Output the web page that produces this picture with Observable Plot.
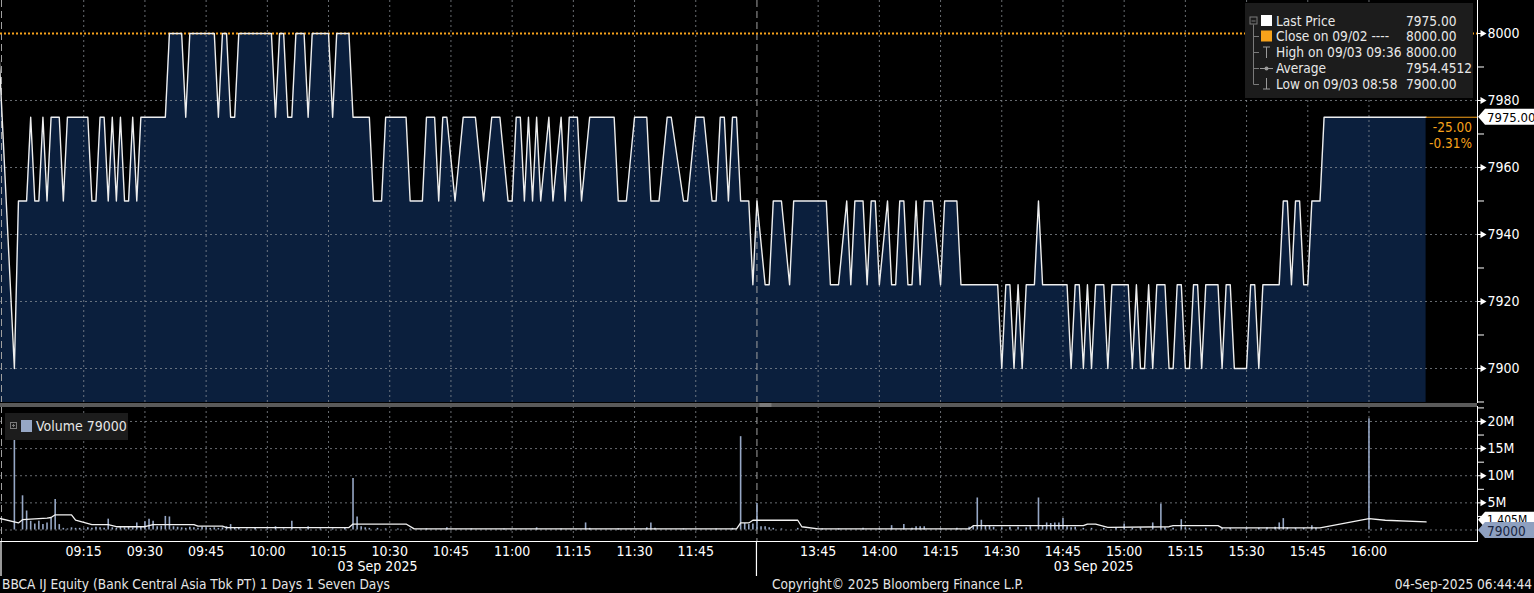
<!DOCTYPE html>
<html><head><meta charset="utf-8">
<script src="https://cdn.jsdelivr.net/npm/d3@7"></script>
<script src="https://cdn.jsdelivr.net/npm/@observablehq/plot@0.6"></script>
<style>
html,body{margin:0;padding:0;background:#000;}
#root{position:relative;width:1534px;height:593px;background:#000;overflow:hidden;
  font-family:"Liberation Sans Narrow","DejaVu Sans Condensed","Arial Narrow",sans-serif;color:#e6e6e6;}
#root > svg{position:absolute;left:0;}
.txt{position:absolute;font-size:13.6px;white-space:nowrap;color:#e6e6e6;line-height:1;}
#legend{position:absolute;left:1245px;top:3px;width:228px;height:95px;background:#1c1c1c;}
#legend .row{position:absolute;left:31px;font-size:13.6px;color:#e8e8e8;line-height:16px;white-space:nowrap;}
#legend .val{position:absolute;left:161px;font-size:13.6px;color:#e8e8e8;line-height:16px;white-space:nowrap;}
#vlegend{position:absolute;left:5px;top:413px;width:123px;height:27px;background:#1c1c1c;}
</style></head><body><div id="root"></div>
<script>
// ---------------- data ----------------
// x = trading-minute index: 0 = 09:00, 180 = 12:00 / 13:30 (lunch break collapsed)
const xDomain = [-5.4, 356.6];
const priceSeries = [[-6,8000],[-2,7900],[-1,7950],[1,7950],[2,7975],[3,7950],[4,7950],[5,7975],[6,7950],[7,7975],[9,7975],[10,7950],[11,7975],[16,7975],[17,7950],[18,7950],[19,7975],[20,7975],[21,7950],[22,7975],[23,7950],[24,7975],[25,7950],[26,7950],[27,7975],[28,7950],[29,7975],[35,7975],[36,8000],[39,8000],[40,7975],[41,8000],[47,8000],[48,7975],[49,8000],[50,8000],[51,7975],[52,7975],[53,8000],[61,8000],[62,7975],[63,8000],[64,8000],[65,7975],[66,7975],[67,8000],[69,8000],[70,7975],[71,8000],[75,8000],[76,7975],[77,8000],[80,8000],[81,7975],[85,7975],[86,7950],[88,7950],[89,7975],[94,7975],[95,7950],[98,7950],[99,7975],[101,7975],[102,7950],[103,7975],[104,7975],[106,7950],[108,7975],[111,7975],[113,7950],[115,7975],[117,7975],[119,7950],[120,7950],[121,7975],[122,7975],[123,7950],[124,7975],[125,7950],[126,7975],[127,7950],[129,7975],[130,7950],[132,7975],[133,7950],[134,7975],[136,7975],[137,7950],[139,7975],[145,7975],[146,7950],[148,7950],[150,7975],[153,7975],[154,7950],[156,7950],[158,7975],[159,7975],[162,7950],[163,7950],[165,7975],[167,7975],[169,7950],[170,7950],[171,7975],[172,7975],[173,7950],[174,7975],[175,7975],[176,7950],[178,7950],[179,7925],[180,7950],[182,7925],[183,7925],[184,7950],[186,7950],[188,7925],[189,7950],[197,7950],[198,7925],[200,7925],[202,7950],[203,7925],[204,7950],[206,7950],[207,7925],[208,7950],[209,7950],[210,7925],[212,7950],[213,7925],[214,7925],[215,7950],[216,7950],[217,7925],[218,7925],[219,7950],[220,7925],[221,7950],[223,7950],[225,7925],[226,7950],[229,7950],[230,7925],[239,7925],[240,7900],[241,7925],[242,7925],[243,7900],[244,7925],[245,7900],[246,7925],[248,7925],[249,7950],[250,7925],[256,7925],[257,7900],[258,7925],[259,7925],[260,7900],[261,7925],[262,7900],[263,7925],[265,7925],[266,7900],[267,7925],[271,7925],[272,7900],[273,7925],[274,7900],[275,7900],[276,7925],[277,7900],[278,7925],[280,7925],[281,7900],[282,7900],[283,7925],[284,7925],[285,7900],[286,7900],[287,7925],[288,7925],[289,7900],[290,7925],[293,7925],[294,7900],[295,7925],[296,7925],[297,7900],[300,7900],[301,7925],[302,7925],[303,7900],[304,7925],[308,7925],[309,7950],[310,7950],[311,7925],[312,7950],[313,7950],[314,7925],[315,7925],[316,7950],[318,7950],[319,7975],[344,7975]];
// volume per minute, millions of shares
const volumeSeries = [[-2,17.0],[0,6.3],[1,3.5],[2,1.6],[3,1.1],[4,1.6],[5,1.0],[6,1.3],[7,2.1],[8,5.6],[9,1.0],[10,0.3],[11,0.2],[12,0.4],[13,0.3],[14,0.3],[15,0.2],[16,0.4],[17,0.3],[18,0.5],[19,0.4],[20,0.3],[21,2.0],[22,0.4],[23,0.3],[24,0.5],[25,0.4],[26,0.5],[27,0.4],[28,1.3],[29,0.6],[30,1.5],[31,2.0],[32,1.6],[33,0.6],[34,0.7],[35,2.5],[36,2.4],[37,0.6],[38,0.5],[39,0.4],[40,0.3],[41,0.5],[42,0.4],[43,0.3],[44,0.5],[45,0.4],[46,0.3],[47,0.4],[48,0.3],[49,0.4],[50,0.6],[51,1.0],[52,0.4],[53,0.3],[55,0.2],[57,0.3],[60,0.2],[62,0.6],[64,0.2],[66,1.6],[68,0.2],[70,0.6],[73,0.2],[76,0.2],[79,0.3],[81,9.5],[82,2.4],[83,0.6],[84,0.4],[85,0.3],[87,0.3],[89,0.2],[92,0.2],[95,0.2],[99,0.2],[104,0.4],[110,0.2],[118,0.2],[126,0.4],[132,0.2],[138,1.3],[139,0.3],[146,0.2],[153,0.4],[154,1.3],[155,0.3],[162,0.2],[170,0.2],[174,0.3],[176,17.2],[177,1.2],[178,1.0],[179,1.1],[180,4.9],[181,0.6],[182,0.6],[183,0.4],[184,0.3],[186,0.2],[190,0.3],[196,0.2],[200,0.2],[206,0.3],[210,0.2],[213,0.8],[216,1.0],[218,0.3],[219,0.6],[220,0.6],[221,0.6],[225,0.2],[229,0.3],[232,0.5],[233,0.6],[234,5.9],[235,1.8],[236,0.8],[237,0.8],[238,0.5],[240,0.4],[242,0.5],[244,0.5],[246,0.4],[247,0.6],[249,5.9],[250,0.8],[251,1.3],[252,1.2],[253,1.3],[254,1.3],[255,2.1],[256,0.6],[257,0.4],[258,0.5],[260,0.3],[262,0.3],[265,0.3],[268,0.4],[270,1.1],[272,0.3],[274,0.4],[277,1.3],[279,4.8],[280,0.4],[282,0.3],[284,1.9],[285,0.4],[286,0.3],[290,0.3],[294,0.3],[296,0.3],[300,0.3],[303,0.3],[305,0.4],[307,0.5],[308,1.3],[309,2.1],[310,0.4],[312,0.3],[314,0.3],[316,0.8],[317,0.3],[320,0.2],[330,20.5],[333,0.3],[337,0.2]];
// volume average line, millions
const volumeAvgSeries = [[-6,2.2],[-1,1.3],[0,1.9],[6,2.2],[7,2.3],[8,2.8],[12,2.8],[13,1.8],[17,1.0],[21,1.0],[23,0.6],[30,0.6],[32,1.0],[42,1.0],[43,0.7],[49,0.7],[50,0.45],[80,0.45],[81,1.1],[94,1.1],[96,0.2],[175,0.2],[176,1.3],[178,1.3],[179,1.8],[190,1.8],[191,0.6],[195,0.2],[232,0.2],[233,0.8],[260,0.8],[261,1.1],[263,1.1],[266,0.5],[281,0.6],[282,0.8],[293,0.8],[294,0.4],[318,0.4],[330,2.1],[334,1.8],[344,1.5]];

const priceTicks = [7900, 7920, 7940, 7960, 7980, 8000];
const priceMinorTicks = [7890, 7910, 7930, 7950, 7970, 7990];
const volumeTicks = [5, 10, 15, 20];
const volumeMinorTicks = [2.5, 7.5, 12.5, 17.5, 22.5];
const timeLabels = ["09:15","09:30","09:45","10:00","10:15","10:30","10:45","11:00","11:15","11:30","11:45",
  "13:45","14:00","14:15","14:30","14:45","15:00","15:15","15:30","15:45","16:00"];
const sessions = [["08:54","12:00"],["13:30","16:15"]];
const dateLabel = "03 Sep 2025";
const prevClose = 8000, lastPrice = 7975;
const lastVolume = 0.079, avgVolume = 1.405;
const legendRows = ["Last Price","Close on 09/02 ----","High on 09/03 09:36","Average","Low on 09/03 08:58"];
const legendValues = ["7975.00","8000.00","8000.00","7954.4512","7900.00"];
const changeTexts = ["-25.00","-0.31%"];
const volumeLegend = "Volume 79000";
const footer = ["BBCA IJ Equity (Bank Central Asia Tbk PT) 1 Days 1 Seven Days",
  "Copyright\u00A9 2025 Bloomberg Finance L.P.", "04-Sep-2025 06:44:44"];

// ---------------- helpers ----------------
function tradingMinute(hhmm){ const [h,mm]=hhmm.split(":").map(Number); const t=h*60+mm; return t<=720 ? t-540 : t-810+180; }
const priceData = priceSeries.map(([m,p])=>({m,p}));
const volData = volumeSeries.map(([m,v])=>({m,v}));
const volAvg = volumeAvgSeries.map(([m,v])=>({m,v}));
const xTicks = timeLabels.map(l=>({m:tradingMinute(l), label:l}));
const breakM = tradingMinute("13:30");
const dateTicks = sessions.map(([a,b])=>({m:(tradingMinute(a)+tradingMinute(b))/2, label:dateLabel}));
const lastM = priceData[priceData.length-1].m;

const W = 1534, AXIS = 1477;
const NAVY = "#0b1f3d", GRID = "#8b9097", ORANGE = "#f7a21b", BAR = "#96a7c5";
const FONT = '"Liberation Sans Narrow","DejaVu Sans Condensed","Arial Narrow",sans-serif';
const priceY = [7889.85, 8009.85];
const volY = [-2.12, 22.76];
const root = document.getElementById("root");

// ---------------- price panel ----------------
const price = Plot.plot({
  width: W, height: 406, marginLeft: 0, marginRight: W-AXIS, marginTop: 0, marginBottom: 4,
  style: {background:"transparent", overflow:"visible", fontFamily: FONT},
  x: {domain: xDomain, axis: null},
  y: {domain: priceY, axis: null},
  marks: [
    Plot.areaY(priceData, {x:"m", y1: priceY[0], y2:"p", fill: NAVY, clip: true}),
    Plot.ruleY(priceTicks.filter(d=>d!==prevClose), {stroke: GRID, strokeDasharray:"2,3", strokeOpacity:0.75}),
    Plot.ruleX(xTicks, {x:"m", stroke: GRID, strokeDasharray:"2,3", strokeOpacity:0.75}),
    Plot.ruleX([breakM], {stroke:"#a0a0a0", strokeDasharray:"7,4"}),
    Plot.ruleX([xDomain[0]], {stroke:"#a0a0a0", strokeDasharray:"7,4", dx:1}),
    Plot.ruleY([prevClose], {stroke: ORANGE, strokeDasharray:"2,2", strokeWidth:1.8}),
    Plot.line(priceData, {x:"m", y:"p", stroke:"#eeeeee", strokeWidth:1.4, clip: true}),
    Plot.ruleY([lastPrice], {x1: lastM, x2: xDomain[1], stroke: ORANGE, strokeWidth:1}),
    Plot.axisY([...priceTicks, ...priceMinorTicks], {anchor:"right", label:null, tickSize:6, tickFormat:()=>"", stroke:"#fff"}),
    Plot.frame({anchor:"right", stroke:"#fff"}),
    Plot.dot(priceTicks, {x: xDomain[1], y: d=>d, symbol:"triangle", rotate:90, r:2.6, fill:"#fff", stroke:null, dx:5}),
    Plot.text(priceTicks, {x: xDomain[1], y: d=>d, text: d=>String(d), dx:10, textAnchor:"start", fill:"#fff", fontSize:14})
  ]
});
price.style.top = "0px";
root.appendChild(price);

// ---------------- volume panel ----------------
const vol = Plot.plot({
  width: W, height: 187, marginLeft: 0, marginRight: W-AXIS, marginTop: 0, marginBottom: 52,
  style: {background:"transparent", overflow:"visible", fontFamily: FONT},
  x: {domain: xDomain, axis: null},
  y: {domain: volY, axis: null},
  marks: [
    Plot.ruleY([0, ...volumeTicks], {stroke: GRID, strokeDasharray:"2,3", strokeOpacity:0.75}),
    Plot.ruleX(xTicks, {x:"m", stroke: GRID, strokeDasharray:"2,3", strokeOpacity:0.75}),
    Plot.ruleX([breakM], {stroke:"#a0a0a0", strokeDasharray:"7,4"}),
    Plot.ruleX([xDomain[0]], {stroke:"#a0a0a0", strokeDasharray:"7,4", dx:1}),
    Plot.ruleX(volData, {x:"m", y1:0, y2:"v", stroke: BAR, strokeWidth:1.6, clip:true}),
    Plot.line(volAvg, {x:"m", y:"v", stroke:"#f2f2f2", strokeWidth:1.3, clip:true}),
    Plot.axisY([...volumeTicks, ...volumeMinorTicks], {anchor:"right", label:null, tickSize:6, tickFormat:()=>"", stroke:"#fff"}),
    Plot.frame({anchor:"right", stroke:"#fff"}),
    Plot.frame({anchor:"bottom", stroke:"#fff"}),
    Plot.dot(volumeTicks, {x: xDomain[1], y: d=>d, symbol:"triangle", rotate:90, r:2.6, fill:"#fff", stroke:null, dx:5}),
    Plot.text(volumeTicks, {x: xDomain[1], y: d=>d, text: d=>d+"M", dx:10, textAnchor:"start", fill:"#fff", fontSize:14}),
    Plot.text(xTicks, {x:"m", text:"label", frameAnchor:"bottom", dy:14, fill:"#fff", fontSize:14}),
    Plot.text(dateTicks, {x:"m", text:"label", frameAnchor:"bottom", dy:29.5, fill:"#fff", fontSize:14})
  ]
});
vol.style.top = "406px";
root.appendChild(vol);

// ---------------- overlay: separators & value tags ----------------
const px = price.scale("x"), py = price.scale("y"), vy = vol.scale("y");
const ov = d3.select(root).append("svg").attr("width", W).attr("height", 593)
  .style("position","absolute").style("top","0px").style("left","0px").style("font-family", FONT);
// panel separator
ov.append("rect").attr("x",0).attr("y",403).attr("width",AXIS).attr("height",4).attr("fill","#5a5a5a");
ov.append("rect").attr("x",px.apply(breakM)+3).attr("y",403.5).attr("width",12).attr("height",1).attr("fill","#9a9a9a");
ov.append("rect").attr("x",px.apply(breakM)+3).attr("y",405.5).attr("width",12).attr("height",1).attr("fill","#9a9a9a");
// session separators below axis
[xDomain[0], breakM].forEach((m,i)=>{
  const x = px.apply(m) + (i===0?1:0);
  ov.append("line").attr("x1",x).attr("x2",x).attr("y1",541).attr("y2",576).attr("stroke","#fff").attr("stroke-width",1.2);
});
function tag(y, text, fill, color, size){
  const x0 = AXIS+1, h = 16;
  ov.append("path").attr("d",`M${x0},${y} L${x0+7},${y-h/2} L${W},${y-h/2} L${W},${y+h/2} L${x0+7},${y+h/2} Z`).attr("fill",fill);
  ov.append("text").attr("x",x0+9).attr("y",y+0.5).attr("dominant-baseline","central").attr("fill",color)
    .attr("font-size",size).text(text);
}
tag(py.apply(lastPrice), lastPrice.toFixed(2), "#ffffff", "#000", 13);
tag(406 + vy.apply(avgVolume) - 2, avgVolume.toFixed(3)+"M", "#ffffff", "#000", 12);
tag(406 + vy.apply(lastVolume) + 1, String(Math.round(lastVolume*1e6)), "#8ea0c0", "#17233d", 13.5);
// change texts
changeTexts.forEach((t,i)=>{
  ov.append("text").attr("x", AXIS-5).attr("y", py.apply(lastPrice) + 10 + i*16).attr("text-anchor","end")
    .attr("dominant-baseline","central").attr("fill",ORANGE).attr("font-size",13.5).text(t);
});

// ---------------- price legend ----------------
const lg = document.createElement("div"); lg.id = "legend"; root.appendChild(lg);
const rowY = [17.5, 33, 49, 65, 81];
legendRows.forEach((t,i)=>{
  const r = document.createElement("div"); r.className="row"; r.style.top = (rowY[i]-8)+"px"; r.textContent=t; lg.appendChild(r);
  const v = document.createElement("div"); v.className="val"; v.style.top = (rowY[i]-8)+"px"; v.textContent=legendValues[i]; lg.appendChild(v);
});
const lgs = d3.select(lg).append("svg").attr("width",30).attr("height",95).style("position","absolute").style("left",0).style("top",0);
const tree = "#7a7a7a";
lgs.append("line").attr("x1",8.5).attr("x2",8.5).attr("y1",rowY[0]+4).attr("y2",rowY[4]+0.5).attr("stroke",tree);
lgs.append("rect").attr("x",5).attr("y",rowY[0]-3.5).attr("width",7).attr("height",7).attr("fill","none").attr("stroke",tree);
lgs.append("line").attr("x1",6.5).attr("x2",10.5).attr("y1",rowY[0]+0.5).attr("y2",rowY[0]+0.5).attr("stroke",tree);
[1,2,3,4].forEach(i=>lgs.append("line").attr("x1",8.5).attr("x2",14).attr("y1",rowY[i]+0.5).attr("y2",rowY[i]+0.5).attr("stroke",tree));
lgs.append("rect").attr("x",16).attr("y",rowY[0]-5.5).attr("width",11).attr("height",11).attr("fill","#fff");
lgs.append("rect").attr("x",16).attr("y",rowY[1]-5.5).attr("width",11).attr("height",11).attr("fill",ORANGE);
// high icon
lgs.append("line").attr("x1",21.5).attr("x2",21.5).attr("y1",rowY[2]-5).attr("y2",rowY[2]+6).attr("stroke","#9a9a9a");
lgs.append("line").attr("x1",18).attr("x2",25).attr("y1",rowY[2]-5).attr("y2",rowY[2]-5).attr("stroke","#9a9a9a");
// average icon
lgs.append("line").attr("x1",15).attr("x2",28).attr("y1",rowY[3]+0.5).attr("y2",rowY[3]+0.5).attr("stroke","#9a9a9a");
lgs.append("circle").attr("cx",21.5).attr("cy",rowY[3]+0.5).attr("r",2).attr("fill","#9a9a9a");
// low icon
lgs.append("line").attr("x1",21.5).attr("x2",21.5).attr("y1",rowY[4]-6).attr("y2",rowY[4]+5).attr("stroke","#9a9a9a");
lgs.append("line").attr("x1",18).attr("x2",25).attr("y1",rowY[4]+5).attr("y2",rowY[4]+5).attr("stroke","#9a9a9a");

// ---------------- volume legend ----------------
const vl = document.createElement("div"); vl.id="vlegend"; root.appendChild(vl);
const vls = d3.select(vl).append("svg").attr("width",123).attr("height",27).style("position","absolute").style("left",0).style("top",0);
vls.append("rect").attr("x",5.5).attr("y",9.5).attr("width",6).attr("height",6).attr("fill","none").attr("stroke","#7a7a7a");
vls.append("line").attr("x1",7).attr("x2",10).attr("y1",12.5).attr("y2",12.5).attr("stroke","#7a7a7a");
vls.append("line").attr("x1",8.5).attr("x2",8.5).attr("y1",11).attr("y2",14).attr("stroke","#7a7a7a");
vls.append("rect").attr("x",16).attr("y",7).attr("width",11).attr("height",12).attr("fill",BAR);
const vt = document.createElement("div"); vt.className="txt"; vt.style.left="31px"; vt.style.top="6px"; vt.style.fontSize="14px";
vt.textContent = volumeLegend; vl.appendChild(vt);

// ---------------- footer ----------------
const f0 = document.createElement("div"); f0.className="txt"; f0.style.left="2px"; f0.style.top="578px"; f0.textContent=footer[0]; root.appendChild(f0);
const f1 = document.createElement("div"); f1.className="txt"; f1.style.left="772px"; f1.style.top="578px"; f1.textContent=footer[1]; root.appendChild(f1);
const f2 = document.createElement("div"); f2.className="txt"; f2.style.right="2px"; f2.style.top="578px"; f2.textContent=footer[2]; root.appendChild(f2);
</script></body></html>
